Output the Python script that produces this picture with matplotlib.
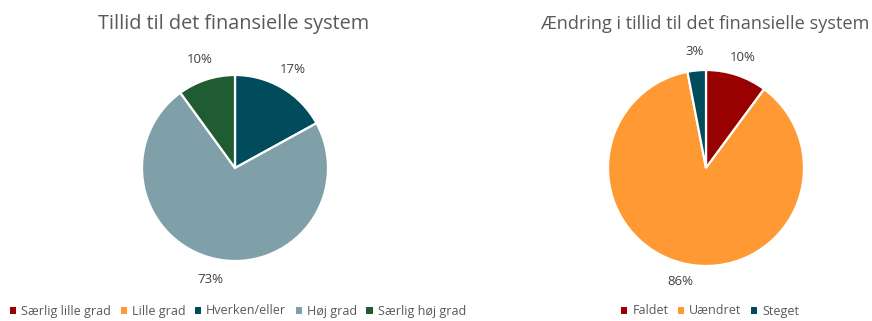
import matplotlib
matplotlib.use("Agg")
import matplotlib.pyplot as plt
from matplotlib.patches import Patch
import numpy as np

plt.rcParams['font.family'] = ['Open Sans', 'DejaVu Sans']

# Tillid til det finansielle system
trust_categories = ["Særlig lille grad", "Lille grad", "Hverken/eller", "Høj grad", "Særlig høj grad"]
trust_values = [0, 0, 17, 73, 10]
trust_colors = ["#990000", "#FF9933", "#004C5C", "#7FA0A9", "#1F5C32"]

# Ændring i tillid
change_categories = ["Faldet", "Uændret", "Steget"]
change_values = [10, 86, 3]
change_colors = ["#990000", "#FF9933", "#004C5C"]

W, H = 872, 321
fig = plt.figure(figsize=(W / 100, H / 100), dpi=100)
fig.patch.set_facecolor("white")

TEXT = "#595959"
LABEL = "#404040"


def pie_axes(cx, cy, r):
    return fig.add_axes([(cx - r) / W, (H - cy - r) / H, 2 * r / W, 2 * r / H])


def draw_pie(ax, values, colors, labeldist):
    total = sum(values)
    ax.pie(values, colors=colors, startangle=90, counterclock=False,
           wedgeprops=dict(edgecolor="white", linewidth=1.6), radius=1.0)
    theta = 90.0
    for v in values:
        span = 360.0 * v / total
        if v > 0:
            mid = np.deg2rad(theta - span / 2)
            ax.text(labeldist * np.cos(mid), labeldist * np.sin(mid), f"{v}%",
                    ha="center", va="center", fontsize=9.5, color=LABEL)
        theta -= span
    ax.set_xlim(-1, 1)
    ax.set_ylim(-1, 1)
    ax.set_aspect("equal")
    ax.axis("off")


ax1 = pie_axes(235, 168, 93)
draw_pie(ax1, trust_values, trust_colors, 1.23)
ax2 = pie_axes(706, 168, 98)
draw_pie(ax2, change_values, change_colors, 1.19)

fig.text(234 / W, 1 - 24 / H, "Tillid til det finansielle system", ha="center", va="center",
         fontsize=14.3, color=TEXT)
fig.text(705 / W, 1 - 24 / H, "Ændring i tillid til det finansielle system", ha="center", va="center",
         fontsize=13.1, color=TEXT)

leg_kw = dict(loc="center", frameon=False, ncol=5, fontsize=9, handlelength=0.5,
              handleheight=0.5, handletextpad=0.4, columnspacing=0.75, labelcolor=TEXT)
h1 = [Patch(facecolor=c, edgecolor="none") for c in trust_colors]
fig.legend(h1, trust_categories, bbox_to_anchor=(238 / W, 1 - 311 / H), **leg_kw)
h2 = [Patch(facecolor=c, edgecolor="none") for c in change_colors]
fig.legend(h2, change_categories, bbox_to_anchor=(710 / W, 1 - 311 / H), **leg_kw)

fig.savefig("out.png", dpi=100, facecolor="white")
